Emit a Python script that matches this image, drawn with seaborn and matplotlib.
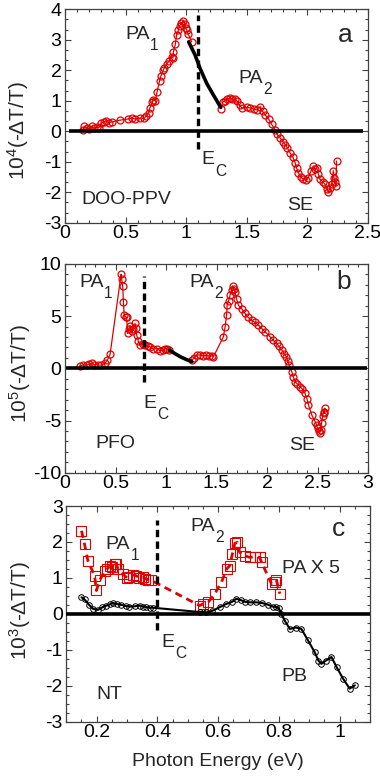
import matplotlib
matplotlib.use("Agg")
import matplotlib.pyplot as plt
import seaborn as sns
from matplotlib.ticker import MultipleLocator, AutoMinorLocator, FuncFormatter

# =========================================================
# STYLE
# =========================================================

sns.set_style("ticks")

plt.rcParams.update({
    "font.family": ["Liberation Sans", "DejaVu Sans"],
    "mathtext.fontset": "custom",
    "mathtext.rm": "Liberation Sans",
    "mathtext.default": "rm",
    "axes.unicode_minus": False,
    "font.size": 14,
    "axes.edgecolor": "#404040",
    "axes.linewidth": 0.9,
    "xtick.color": "#404040",
    "ytick.color": "#404040",
    "xtick.labelcolor": "black",
    "ytick.labelcolor": "black",
})

RED = "#e00000"

# =========================================================
# DATA
# =========================================================

# panel a : DOO-PPV, 10^4(-dT/T)
a_red1_x = [0.15, 0.16, 0.18, 0.20, 0.22, 0.24, 0.26, 0.28, 0.30, 0.32, 0.34, 0.36,
            0.385, 0.45, 0.52, 0.55, 0.58, 0.62, 0.65, 0.67, 0.69, 0.70, 0.72, 0.73,
            0.745, 0.76, 0.78, 0.79, 0.81, 0.82, 0.84, 0.86, 0.88, 0.89, 0.895, 0.91,
            0.92, 0.935, 0.945, 0.96, 0.975, 0.99, 0.995, 1.005, 1.015, 1.045]
a_red1_y = [0.05, 0.16, 0.11, 0.08, 0.16, 0.10, 0.13, 0.12, 0.27, 0.30, 0.35, 0.28,
            0.30, 0.36, 0.40, 0.43, 0.40, 0.43, 0.42, 0.49, 0.60, 0.76, 0.95, 1.03,
            1.00, 1.30, 1.65, 1.80, 2.00, 2.08, 2.22, 2.30, 2.44, 2.40, 2.60, 2.85,
            3.15, 3.31, 3.45, 3.56, 3.60, 3.53, 3.40, 3.31, 3.20, 2.93]
a_fit_x = [1.02, 1.073, 1.114, 1.169, 1.224, 1.285]
a_fit_y = [2.93, 2.50, 2.06, 1.57, 1.19, 0.78]
a_red2_x = [1.285, 1.30, 1.32, 1.34, 1.36, 1.38, 1.40, 1.42, 1.44, 1.46, 1.50, 1.53,
            1.56, 1.58, 1.61, 1.63, 1.65, 1.68, 1.705, 1.733, 1.75, 1.774, 1.80, 1.815,
            1.835, 1.856, 1.88, 1.898, 1.91, 1.925, 1.945, 1.966, 1.985, 2.007, 2.03,
            2.05, 2.065, 2.077, 2.09, 2.104, 2.125, 2.145, 2.16, 2.173, 2.185, 2.20,
            2.214, 2.22, 2.228, 2.235, 2.24]
a_red2_y = [0.74, 0.95, 1.00, 1.05, 1.08, 1.06, 1.05, 0.98, 0.85, 0.76, 0.78, 0.76,
            0.72, 0.70, 0.81, 0.65, 0.54, 0.40, 0.22, 0.05, -0.10, -0.22, -0.35, -0.44,
            -0.55, -0.71, -0.85, -1.03, -1.20, -1.36, -1.50, -1.58, -1.60, -1.52, -1.30,
            -1.14, -1.25, -1.20, -1.40, -1.58, -1.65, -1.74, -1.90, -2.01, -1.85, -1.74,
            -1.30, -1.55, -1.68, -1.80, -0.98]

# panel b : PFO, 10^5(-dT/T)
b_red1_x = [0.15, 0.18, 0.215, 0.24, 0.264, 0.29, 0.33, 0.36, 0.396, 0.42, 0.446,
            0.555, 0.56, 0.571, 0.578, 0.585, 0.60, 0.61, 0.62, 0.63, 0.644, 0.66,
            0.677, 0.694, 0.70, 0.71, 0.725, 0.743, 0.77, 0.793, 0.82, 0.842, 0.87,
            0.91, 0.94, 0.974, 0.99, 1.008, 1.03]
b_red1_y = [0.26, 0.30, 0.32, 0.40, 0.48, 0.35, 0.32, 0.30, 0.48, 0.80, 1.34,
            9.0, 8.6, 7.9, 6.4, 5.1, 4.9, 4.9, 3.35, 3.8, 4.1, 3.6,
            3.8, 4.3, 3.9, 3.2, 2.6, 2.2, 2.3, 2.2, 2.1, 2.07, 1.9,
            1.9, 1.7, 1.75, 1.9, 1.9, 1.75]
b_fit_x = [1.034, 1.09, 1.14, 1.20, 1.256]
b_fit_y = [1.75, 1.40, 1.12, 0.85, 0.64]
b_red2_x = [1.256, 1.28, 1.305, 1.338, 1.37, 1.40, 1.43, 1.454, 1.47, 1.568, 1.585,
            1.60, 1.605, 1.62, 1.634, 1.65, 1.66, 1.67, 1.683, 1.70, 1.716, 1.75,
            1.782, 1.81, 1.848, 1.88, 1.914, 1.95, 1.98, 2.03, 2.06, 2.096, 2.12,
            2.146, 2.17, 2.19, 2.205, 2.22, 2.245, 2.26, 2.277, 2.30, 2.327, 2.35,
            2.376, 2.395, 2.41, 2.443, 2.475, 2.49, 2.50, 2.51, 2.52, 2.53, 2.54,
            2.55, 2.56, 2.574, 2.566]
b_red2_y = [0.80, 1.00, 1.28, 1.28, 1.20, 1.25, 1.15, 1.21, 1.12, 3.03, 3.99,
            5.1, 6.06, 6.5, 7.0, 7.5, 7.9, 7.6, 7.3, 6.6, 6.06, 5.7,
            5.26, 4.9, 4.62, 4.4, 4.14, 3.8, 3.5, 3.03, 2.7, 2.39, 2.1,
            1.75, 1.4, 1.12, 0.7, 0.32, -0.32, -0.8, -1.27, -1.5, -1.75, -2.0,
            -2.39, -2.9, -3.5, -4.47, -5.1, -5.4, -5.74, -6.0, -6.22, -5.9, -5.26,
            -4.6, -4.14, -3.83, -4.3]

# panel c : NT, 10^3(-dT/T)
c_pb_x = [0.15, 0.16, 0.175, 0.188, 0.204, 0.218, 0.232, 0.245, 0.254, 0.268, 0.281,
          0.295, 0.308, 0.325, 0.341, 0.352, 0.363, 0.375, 0.385, 0.54, 0.56, 0.58,
          0.606, 0.625, 0.645, 0.66, 0.675, 0.69, 0.705, 0.726, 0.745, 0.765, 0.78,
          0.792, 0.80, 0.808, 0.82, 0.836, 0.855, 0.874, 0.896, 0.918, 0.93, 0.94,
          0.955, 0.973, 0.99, 1.011, 1.033, 1.05]
c_pb_y = [0.46, 0.40, 0.25, 0.14, 0.11, 0.18, 0.23, 0.27, 0.30, 0.27, 0.25,
          0.22, 0.20, 0.21, 0.23, 0.20, 0.19, 0.17, 0.17, 0.05, 0.04, 0.08,
          0.19, 0.27, 0.33, 0.42, 0.38, 0.33, 0.32, 0.32, 0.30, 0.25, 0.20,
          0.19, 0.15, 0.00, -0.20, -0.42, -0.38, -0.42, -0.74, -1.07, -1.30, -1.39,
          -1.30, -1.20, -1.48, -1.80, -2.08, -1.99]
c_pa_x = [0.15, 0.16, 0.171, 0.193, 0.199, 0.21, 0.226, 0.235, 0.243, 0.25, 0.259,
          0.265, 0.27, 0.286, 0.30, 0.308, 0.32, 0.33, 0.34, 0.352, 0.36, 0.37, 0.38,
          0.539, 0.551, 0.567, 0.589, 0.611, 0.628, 0.638, 0.647, 0.655, 0.663,
          0.671, 0.688, 0.704, 0.721, 0.737, 0.743, 0.776, 0.787, 0.792, 0.803]
c_pa_y = [2.31, 1.94, 1.48, 1.06, 0.65, 0.93, 1.20, 1.25, 1.34, 1.30, 1.40,
          1.38, 1.25, 1.11, 1.00, 1.02, 1.08, 1.06, 1.00, 1.02, 0.98, 0.95, 0.93,
          0.23, 0.28, 0.32, 0.56, 0.88, 1.25, 1.34, 1.67, 1.96, 1.99,
          1.71, 1.62, 1.57, 1.59, 1.57, 1.43, 0.83, 0.88, 0.93, 0.56]

# reference lines: E_C position, dashed extent, zero-line extent
ec_a, ec_a_span, zero_a = 1.10, (-0.6, 3.8), (0.03, 2.46)
ec_b, ec_b_span, zero_b = 0.78, (-1.3, 8.8), (0.01, 2.99)
ec_c, ec_c_span, zero_c = 0.40, (-0.45, 2.6), (0.10, 1.10)


# =========================================================
# HELPERS
# =========================================================

def put_label(ax, x, y, main, sub=None, size=14):
    t = ax.text(x, y, main, fontsize=size, ha="left", va="baseline")
    if sub:
        ax.annotate(sub, xy=(1, 0), xycoords=t, xytext=(0.3, 3.5),
                    textcoords="offset points", fontsize=size * 0.8,
                    ha="left", va="top")


def style_axis(ax, xlim, ylim, xmaj, xminor, ymaj, yminor):
    ax.set_xlim(*xlim)
    ax.set_ylim(*ylim)
    ax.xaxis.set_major_locator(MultipleLocator(xmaj))
    ax.xaxis.set_minor_locator(AutoMinorLocator(xminor))
    ax.yaxis.set_major_locator(MultipleLocator(ymaj))
    ax.yaxis.set_minor_locator(AutoMinorLocator(yminor))
    ax.xaxis.set_major_formatter(FuncFormatter(lambda v, p: "%g" % round(v, 3)))
    ax.yaxis.set_major_formatter(FuncFormatter(lambda v, p: "%g" % round(v, 3)))
    ax.tick_params(which="both", direction="in", top=True, right=True,
                   labelsize=14, width=0.8)
    ax.tick_params(which="major", length=4, pad=2.5)
    ax.tick_params(which="minor", length=2.2)
    ax.tick_params(axis="x", pad=2)
    for s in ax.spines.values():
        s.set_visible(True)


def red_trace(ax, x, y, size=5.0):
    sns.lineplot(x=x, y=y, ax=ax, sort=False, estimator=None, color=RED,
                 linewidth=0.9, marker="o", markersize=size,
                 markerfacecolor="none", markeredgecolor=RED,
                 markeredgewidth=0.9, zorder=3)


def ref_lines(ax, ec, span, zero):
    ax.hlines(0, zero[0], zero[1], color="black", linewidth=2.6, zorder=4)
    ax.vlines(ec, span[0], span[1], color="black", linewidth=2.4,
              linestyles=(0, (2.2, 1.3)), zorder=5)


# =========================================================
# FIGURE
# =========================================================

fig = plt.figure(figsize=(3.8, 7.78), dpi=100)

ax_a = fig.add_axes([0.1711, 0.7138, 0.7974, 0.2743])
ax_b = fig.add_axes([0.1711, 0.3924, 0.7974, 0.2683])
ax_c = fig.add_axes([0.1745, 0.0724, 0.7992, 0.2772])

# ---------------- panel a ----------------
ref_lines(ax_a, ec_a, ec_a_span, zero_a)
red_trace(ax_a, a_red1_x, a_red1_y)
red_trace(ax_a, a_red2_x, a_red2_y)
sns.lineplot(x=a_fit_x, y=a_fit_y, ax=ax_a, sort=False, estimator=None,
             color="black", linewidth=2.6, zorder=4)
style_axis(ax_a, (0, 2.5), (-3, 4), 0.5, 5, 1, 3)
ax_a.set_ylabel("10$^4$(-ΔT/T)", fontsize=15)
ax_a.yaxis.set_label_coords(-0.112, 0.43)
put_label(ax_a, 0.495, 3.04, "PA", "1")
put_label(ax_a, 1.43, 1.57, "PA", "2")
put_label(ax_a, 1.128, -1.09, "E", "C")
put_label(ax_a, 0.138, -2.39, "DOO-PPV")
put_label(ax_a, 1.83, -2.6, "SE")
put_label(ax_a, 2.25, 2.93, "a", size=19)

# ---------------- panel b ----------------
ref_lines(ax_b, ec_b, ec_b_span, zero_b)
red_trace(ax_b, b_red1_x, b_red1_y)
red_trace(ax_b, b_red2_x, b_red2_y)
sns.lineplot(x=b_fit_x, y=b_fit_y, ax=ax_b, sort=False, estimator=None,
             color="black", linewidth=2.6, zorder=4)
style_axis(ax_b, (0, 3), (-10, 10), 0.5, 5, 5, 5)
ax_b.set_ylabel("10$^5$(-ΔT/T)", fontsize=15)
ax_b.yaxis.set_label_coords(-0.106, 0.474)
put_label(ax_b, 0.139, 7.8, "PA", "1")
put_label(ax_b, 1.228, 7.8, "PA", "2")
put_label(ax_b, 0.78, -3.83, "E", "C")
put_label(ax_b, 0.297, -7.66, "PFO")
put_label(ax_b, 2.22, -7.8, "SE")
put_label(ax_b, 2.69, 7.6, "b", size=19)

# ---------------- panel c ----------------
ref_lines(ax_c, ec_c, ec_c_span, zero_c)
sns.lineplot(x=c_pa_x, y=c_pa_y, ax=ax_c, sort=False, estimator=None,
             color=RED, linewidth=2.0, linestyle=(0, (2.6, 1.8)),
             marker="s", markersize=6.5, markerfacecolor="none",
             markeredgecolor=RED, markeredgewidth=0.8, zorder=3)
sns.lineplot(x=c_pb_x, y=c_pb_y, ax=ax_c, sort=False, estimator=None,
             color="black", linewidth=1.5, marker="o", markersize=4,
             markerfacecolor="none", markeredgecolor="black",
             markeredgewidth=0.7, zorder=3)
style_axis(ax_c, (0.1, 1.1), (-3, 3), 0.2, 4, 1, 4)
ax_c.set_ylabel("10$^3$(-ΔT/T)", fontsize=15)
ax_c.yaxis.set_label_coords(-0.11, 0.514)
ax_c.set_xlabel("Photon Energy (eV)", fontsize=14, labelpad=8)
put_label(ax_c, 0.23, 1.8, "PA", "1")
put_label(ax_c, 0.509, 2.31, "PA", "2")
put_label(ax_c, 0.809, 1.13, "PA X 5")
put_label(ax_c, 0.414, -0.93, "E", "C")
put_label(ax_c, 0.809, -1.87, "PB")
put_label(ax_c, 0.20, -2.36, "NT")
put_label(ax_c, 0.975, 2.17, "c", size=19)

fig.savefig("out.png", dpi=100)
plt.close(fig)
